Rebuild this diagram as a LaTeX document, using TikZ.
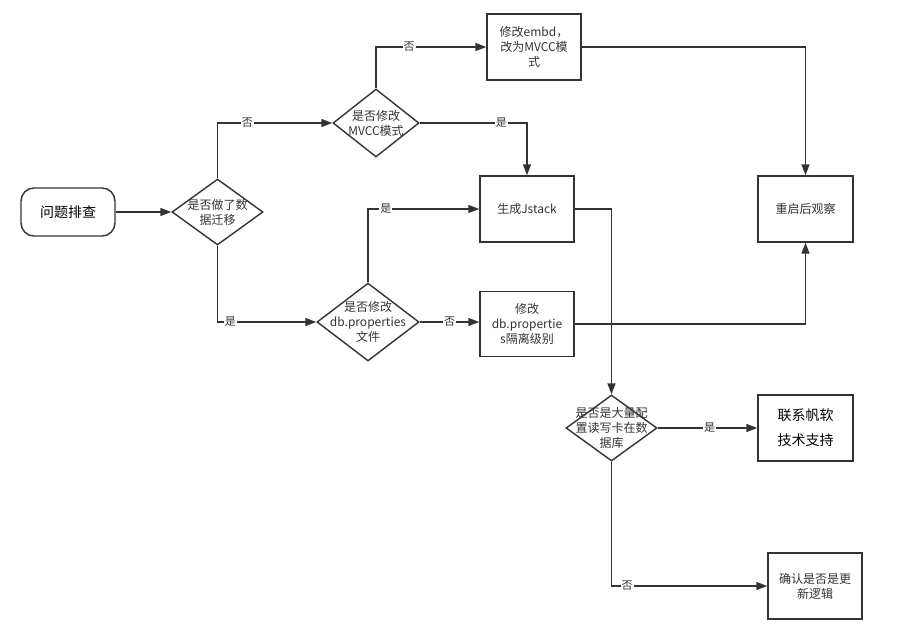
\documentclass[tikz,border=0pt]{standalone}
\usepackage{fontspec}
\setmainfont{Noto Sans CJK SC}
\usetikzlibrary{arrows.meta,shapes.geometric}
\definecolor{ink}{HTML}{333333}
\tikzset{
  every node/.style={font=\fontsize{12}{15}\selectfont, text=ink},
  conn/.style={draw=ink, line width=1.4pt, -{Triangle[length=11pt,width=8pt]}},
  box/.style={draw=ink, line width=1.4pt, rectangle, inner sep=0pt, align=center},
  dia/.style={draw=ink, line width=1.4pt, diamond, inner sep=0pt},
  lab/.style={fill=white, inner sep=1pt, font=\fontsize{11}{13}\selectfont},
  txt/.style={align=center, inner sep=0pt}
}
\begin{document}
\begin{tikzpicture}[x=1pt,y=-1pt]
\useasboundingbox (0,0) rectangle (909,638);
% nodes
\node[box, rounded corners=13pt, minimum width=94pt, minimum height=48pt, text=black, font=\fontsize{14}{16}\selectfont] (start) at (68,212) {问题排查};
\node[dia, minimum width=91pt, minimum height=66pt] (d1) at (217.5,212) {};
\node[txt] at (d1) {是否做了数\\据迁移};
\node[dia, minimum width=86pt, minimum height=68pt] (d2) at (376,123) {};
\node[txt] at (d2) {是否修改\\MVCC模式};
\node[dia, minimum width=102pt, minimum height=78pt] (d3) at (368,322) {};
\node[txt] at (d3) {是否修改\\db.properties\\文件};
\node[box, minimum width=94pt, minimum height=66pt] (embd) at (534,47) {修改embd，\\改为MVCC模\\式};
\node[box, minimum width=94pt, minimum height=66pt] (jstack) at (527,209) {生成Jstack};
\node[box, minimum width=94pt, minimum height=65pt] (db) at (527,324) {修改\\db.propertie\\s隔离级别};
\node[box, minimum width=95pt, minimum height=66pt] (restart) at (805.5,209) {重启后观察};
\node[dia, minimum width=91pt, minimum height=66pt] (d4) at (611.5,428) {};
\node[txt] at (d4) {是否是大量配\\置读写卡在数\\据库};
\node[box, minimum width=95pt, minimum height=66pt, text=black, font=\fontsize{14}{25}\selectfont] (lx) at (805.5,428) {联系帆软\\技术支持};
\node[box, minimum width=94pt, minimum height=66pt] (cf) at (815,586) {确认是否是更\\新逻辑};
% connectors
\draw[conn] (start.east) -- (d1.west);
\draw[conn] (d1.north) |- node[lab, pos=0.63] {否} (d2.west);
\draw[conn] (d2.north) |- node[lab, pos=0.65] {否} (embd.west);
\draw[conn] (d2.east) -| node[lab, pos=0.38] {是} (jstack.north);
\draw[conn] (d1.south) |- node[lab, pos=0.565] {是} (d3.west);
\draw[conn] (d3.north) |- node[lab, pos=0.58] {是} (jstack.west);
\draw[conn] (d3.east) -- node[lab, pos=0.5] {否} (d3.east -| db.west);
\draw[conn] (embd.east) -| (restart.north);
\draw[conn] (db.east) -| (restart.south);
\draw[conn] (jstack.east) -| (d4.north);
\draw[conn] (d4.east) -- node[lab, pos=0.52] {是} (lx.west);
\draw[conn] (d4.south) |- node[lab, pos=0.55] {否} (cf.west);
\end{tikzpicture}
\end{document}
